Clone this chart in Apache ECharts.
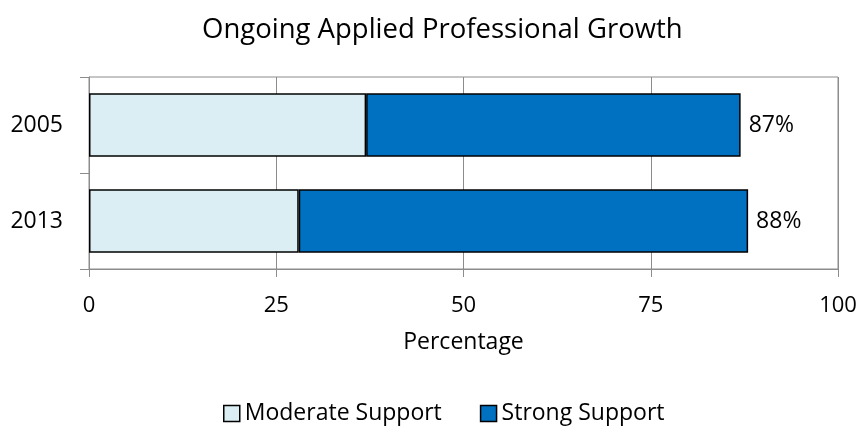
<!DOCTYPE html>
<html>
<head>
<meta charset="utf-8">
<script src="https://cdn.jsdelivr.net/npm/echarts@6/dist/echarts.min.js"></script>
<style>
  html, body { margin: 0; padding: 0; background: #fff; }
  #chart { width: 860px; height: 430px; }
</style>
</head>
<body>
<div id="chart"></div>
<script>
  // 数据
  const years = ['2005', '2013'];
  const moderate = [37, 28];
  const strong = [50, 60];
  const totals = [87, 88];
  const xTicks = [0, 25, 50, 75, 100];

  const font = '"Open Sans", "Noto Sans", sans-serif';
  const chart = echarts.init(document.getElementById('chart'), null, { renderer: 'canvas' });

  const option = {
    animation: false,
    title: {
      text: 'Ongoing Applied Professional Growth',
      left: 197,
      top: 11,
      textStyle: { fontFamily: font, fontSize: 27.5, fontWeight: 'normal', color: '#000' }
    },
    legend: {
      top: 397,
      left: 218,
      itemWidth: 16,
      itemHeight: 16,
      itemGap: 38,
      icon: 'rect',
      textStyle: { fontFamily: font, fontSize: 23, color: '#000' },
      data: [
        { name: 'Moderate Support', itemStyle: { borderColor: '#000', borderWidth: 1.5 } },
        { name: 'Strong Support', itemStyle: { borderColor: '#000', borderWidth: 1.5 } }
      ]
    },
    grid: {
      left: 89, right: 22, top: 77, bottom: 161,
      show: true, borderColor: '#8c8c8c', borderWidth: 1
    },
    xAxis: {
      type: 'value',
      min: xTicks[0],
      max: xTicks[xTicks.length - 1],
      interval: 25,
      name: 'Percentage',
      nameLocation: 'middle',
      nameGap: 62,
      nameTextStyle: { fontFamily: font, fontSize: 23, color: '#000' },
      axisLine: { show: true, lineStyle: { color: '#8c8c8c', width: 1 } },
      axisTick: { show: true, length: 8, lineStyle: { color: '#8c8c8c' } },
      axisLabel: { fontFamily: font, fontSize: 22, color: '#000', margin: 26 },
      splitLine: { show: true, lineStyle: { color: '#8c8c8c', width: 1 } }
    },
    yAxis: {
      type: 'category',
      inverse: true,
      data: years,
      axisLine: { show: true, lineStyle: { color: '#8c8c8c', width: 1 } },
      axisTick: { show: true, length: 9, lineStyle: { color: '#8c8c8c' } },
      axisLabel: { fontFamily: font, fontSize: 23, color: '#000', margin: 26 }
    },
    series: [
      {
        name: 'Moderate Support',
        type: 'bar',
        stack: 'total',
        barCategoryGap: '34%',
        data: moderate,
        itemStyle: { color: '#DAEEF3', borderColor: '#000', borderWidth: 1.5 }
      },
      {
        name: 'Strong Support',
        type: 'bar',
        stack: 'total',
        barCategoryGap: '34%',
        data: strong,
        itemStyle: { color: '#0070C0', borderColor: '#000', borderWidth: 1.5 },
        label: {
          show: true,
          position: 'right',
          distance: 8,
          fontFamily: font,
          fontSize: 23,
          color: '#000',
          formatter: p => totals[p.dataIndex] + '%'
        }
      }
    ]
  };

  chart.setOption(option);
</script>
</body>
</html>
